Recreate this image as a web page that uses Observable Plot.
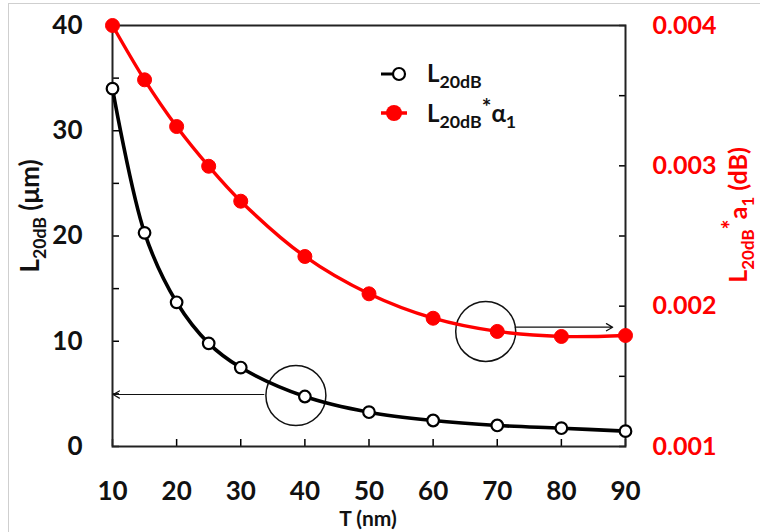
<!DOCTYPE html>
<html>
<head>
<meta charset="utf-8">
<script src="https://cdn.jsdelivr.net/npm/d3@7"></script>
<script src="https://cdn.jsdelivr.net/npm/@observablehq/plot@0.6"></script>
<style>
  html, body { margin: 0; padding: 0; background: white; }
  #wrap { position: relative; width: 760px; height: 532px; overflow: hidden; }
  #border { position: absolute; left: 8px; top: 3px; right: 0; bottom: 0;
            border-left: 1.5px solid #cfcfcf; border-top: 1.5px solid #cfcfcf; pointer-events: none; }
</style>
</head>
<body>
<div id="wrap"><div id="border"></div></div>
<script>
// ---- data ----
const T = [10, 15, 20, 25, 30, 40, 50, 60, 70, 80, 90];
const L20dB = [34.0, 20.3, 13.7, 9.8, 7.5, 4.75, 3.26, 2.47, 2.0, 1.74, 1.46];
const L20dBAlpha = [0.00400, 0.003613, 0.00328, 0.002997, 0.002748, 0.002354, 0.002088, 0.001914, 0.00182, 0.001784, 0.001791];
const xTicks = [10, 20, 30, 40, 50, 60, 70, 80, 90];
const leftTicks = [0, 10, 20, 30, 40];
const leftMinor = [0, 5, 10, 15, 20, 25, 30, 35, 40];
const rightTicks = [0.001, 0.002, 0.003, 0.004];
const rightMinor = [0.001, 0.0015, 0.002, 0.0025, 0.003, 0.0035, 0.004];
// annotation circles and arrows
const circleX = [38.6, 68.2];
const circleLeftY = [4.85];
const circleRightY = [0.00182];
const arrowLeft = {x1: 33.6, x2: 10.1, y: 4.94};
const arrowRight = {x1: 72.8, x2: 88.0, y: 0.00185};

// map right-axis values onto the left scale
const toL = v => (v - 0.001) / 0.003 * 40;
const fromL = d => 0.001 + d / 40 * 0.003;

const black = T.map((t, i) => ({T: t, v: L20dB[i]}));
const red = T.map((t, i) => ({T: t, v: toL(L20dBAlpha[i])}));
const circles = [
  {x: circleX[0], y: circleLeftY[0]},
  {x: circleX[1], y: toL(circleRightY[0])}
];
const arrows = [
  {x1: arrowLeft.x1, x2: arrowLeft.x2, y: arrowLeft.y},
  {x1: arrowRight.x1, x2: arrowRight.x2, y: toL(arrowRight.y)}
];

const FONT = "Lato, 'Open Sans', sans-serif";

const plot = Plot.plot({
  width: 760,
  height: 532,
  marginLeft: 112,
  marginRight: 135,
  marginTop: 25,
  marginBottom: 86,
  style: {background: "transparent", fontFamily: FONT, fontWeight: "bold", overflow: "visible"},
  x: {domain: [10, 90]},
  y: {domain: [0, 40]},
  marks: [
    // inward minor/major ticks
    Plot.axisX({ticks: xTicks, tickSize: -7, tickFormat: () => "", label: null, strokeWidth: 1.5}),
    Plot.axisY({ticks: leftMinor, tickSize: -7, tickFormat: () => "", label: null, strokeWidth: 1.5}),
    Plot.axisY({anchor: "right", ticks: rightMinor.map(toL), tickSize: -7, tickFormat: () => "", label: null, strokeWidth: 1.5}),
    // tick labels
    Plot.axisX({ticks: xTicks, tickSize: 0, tickPadding: 35, fontSize: 26, label: null, fill: "#111"}),
    Plot.axisY({ticks: leftTicks, tickSize: 0, tickPadding: 30, fontSize: 26, label: null, fill: "#111"}),
    Plot.axisY({anchor: "right", ticks: rightTicks.map(toL), tickSize: 0, tickPadding: 27, fontSize: 25, label: null,
                fill: "#ff0000", tickFormat: d => fromL(d).toFixed(3)}),
    Plot.frame({stroke: "#222", strokeWidth: 2}),
    // annotations
    Plot.dot(circles, {x: "x", y: "y", r: 30, stroke: "#111", strokeWidth: 1.5, fill: "none"}),
    Plot.arrow(arrows, {x1: "x1", x2: "x2", y1: "y", y2: "y", stroke: "#111", strokeWidth: 1.2, headLength: 9}),
    // series
    Plot.line(red, {x: "T", y: "v", stroke: "#ff0000", strokeWidth: 3.4, curve: "catmull-rom"}),
    Plot.dot(red, {x: "T", y: "v", r: 7, fill: "#ff0000", stroke: "#ff0000", strokeWidth: 1}),
    Plot.line(black, {x: "T", y: "v", stroke: "#000", strokeWidth: 3.6, curve: "catmull-rom"}),
    Plot.dot(black, {x: "T", y: "v", r: 5.8, fill: "white", stroke: "#000", strokeWidth: 2.2})
  ]
});

document.getElementById("wrap").prepend(plot);

// ---- text labels with subscripts ----
const svg = d3.select(plot);
function rich(g, parts, size, anchor, subScale) {
  // parts: [text, kind] kind: "n" normal, "sub", "sup"
  const t = g.append("text").attr("font-family", FONT).attr("font-weight", "bold")
    .attr("font-size", size).attr("text-anchor", anchor || "start");
  let shift = 0;
  for (const [s, kind] of parts) {
    const target = kind === "sub" ? size * 0.26 : kind === "sup" ? -size * 0.3 : 0;
    const ts = t.append("tspan").text(s).attr("dy", target - shift);
    if (kind === "sub") ts.attr("font-size", size * (subScale || 0.68));
    if (kind === "sup") ts.attr("font-size", size * 0.95);
    shift = target;
  }
  return t;
}

// left axis label
const gl = svg.append("g").attr("transform", "translate(39,216) rotate(-90)");
rich(gl, [["L", "n"], ["20dB", "sub"], [" (\u03bcm)", "n"]], 26, "middle").attr("fill", "#111");

// right axis label
const gr = svg.append("g").attr("transform", "translate(747,215) rotate(-90)");
rich(gr, [["L", "n"], ["20dB", "sub"], ["*", "sup"], ["a", "n"], ["1", "sub"], [" (dB)", "n"]], 25, "middle").attr("fill", "#ff0000");

// x axis title
svg.append("text").attr("x", 368).attr("y", 526).attr("text-anchor", "middle")
  .attr("font-family", FONT).attr("font-weight", "bold").attr("font-size", 21).attr("fill", "#111").text("T (nm)");

// legend
const lg = svg.append("g");
lg.append("line").attr("x1", 381).attr("x2", 397).attr("y1", 74).attr("y2", 74).attr("stroke", "#000").attr("stroke-width", 3);
lg.append("circle").attr("cx", 399).attr("cy", 74).attr("r", 6).attr("fill", "white").attr("stroke", "#000").attr("stroke-width", 2.2);
rich(lg.append("g").attr("transform", "translate(427,82)"), [["L", "n"], ["20dB", "sub"]], 24, "start", 0.74).attr("fill", "#111");
lg.append("line").attr("x1", 381).attr("x2", 407).attr("y1", 113).attr("y2", 113).attr("stroke", "#ff0000").attr("stroke-width", 3.5);
lg.append("circle").attr("cx", 394).attr("cy", 113).attr("r", 8).attr("fill", "#ff0000");
rich(lg.append("g").attr("transform", "translate(427,122)"), [["L", "n"], ["20dB", "sub"], ["*", "sup"], ["\u03b1", "n"], ["1", "sub"]], 24, "start", 0.74).attr("fill", "#111");
</script>
</body>
</html>
